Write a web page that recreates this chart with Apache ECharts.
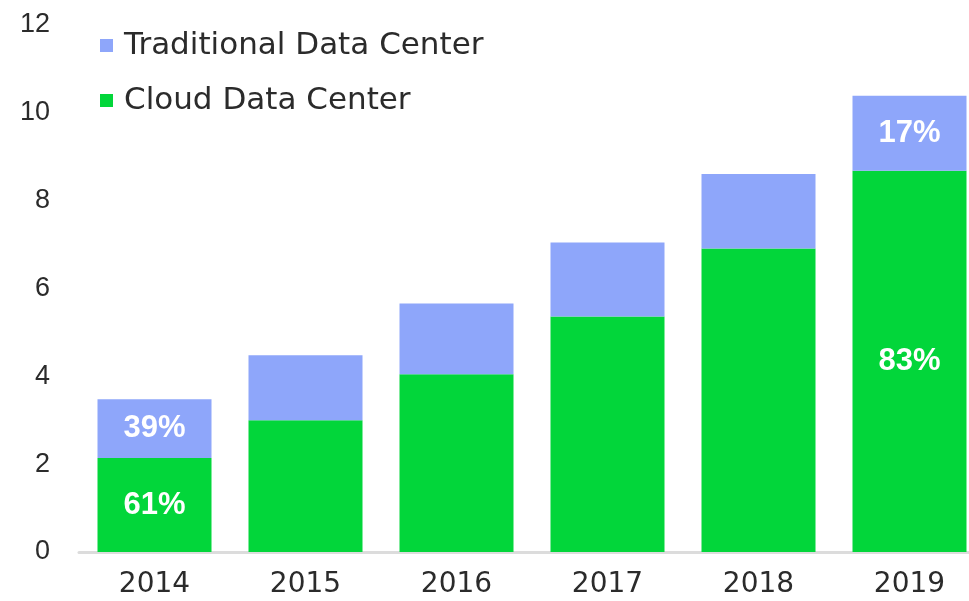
<!DOCTYPE html>
<html lang="en">
<head>
  <meta charset="utf-8" />
  <title>Data Center Workloads</title>
  <script src="https://cdn.jsdelivr.net/npm/echarts@6.0.0/dist/echarts.min.js"></script>
  <style>
    html, body { margin: 0; padding: 0; background: #fff; }
  </style>
</head>
<body>
  <div id="main" style="width: 969px;height:601px;"></div>
  <script>
    var years = ['2014', '2015', '2016', '2017', '2018', '2019']
    var cloud = [2.14, 3.0, 4.05, 5.36, 6.91, 8.68]
    var traditional = [1.34, 1.48, 1.61, 1.69, 1.70, 1.71]
    var cloudLabels = ['61%', '', '', '', '', '83%']
    var traditionalLabels = ['39%', '', '', '', '', '17%']

    var chartDom = document.getElementById('main');
    var myChart = echarts.init(chartDom);

    function withLabels(values, labels) {
      return values.map(function (v, i) {
        return {
          value: v,
          label: { show: labels[i] !== '', formatter: labels[i] }
        }
      })
    }

    var barLabel = {
      position: 'inside',
      color: '#ffffff',
      fontSize: 31,
      fontWeight: 'bold',
      fontFamily: 'Arial'
    }

    var option = {
      animation: false,
      textStyle: { fontFamily: 'Arial' },
      legend: {
        orient: 'vertical',
        left: 95,
        top: 25,
        itemWidth: 13,
        itemHeight: 13,
        itemGap: 24,
        icon: 'rect',
        data: ['Traditional Data Center', 'Cloud Data Center'],
        textStyle: { fontSize: 31, color: '#2b2b2b', fontFamily: 'DejaVu Sans', padding: [0, 0, 0, 6] }
      },
      grid: {
        left: 79,
        width: 906,
        top: 25,
        bottom: 49,
        containLabel: false,
        outerBoundsMode: 'none'
      },
      xAxis: {
        type: 'category',
        data: years,
        axisTick: { show: false },
        axisLine: { lineStyle: { color: '#dcdcdc', width: 3 } },
        axisLabel: { fontSize: 28, color: '#2b2b2b', margin: 19, fontFamily: 'DejaVu Sans' }
      },
      yAxis: {
        type: 'value',
        min: 0,
        max: 12,
        interval: 2,
        splitLine: { show: false },
        axisLine: { show: false },
        axisTick: { show: false },
        axisLabel: { fontSize: 27, color: '#2b2b2b', margin: 29, fontFamily: 'Arial' }
      },
      series: [
        {
          name: 'Cloud Data Center',
          type: 'bar',
          stack: 'total',
          barWidth: '75.5%',
          itemStyle: { color: '#02d63a' },
          label: barLabel,
          data: withLabels(cloud, cloudLabels)
        },
        {
          name: 'Traditional Data Center',
          type: 'bar',
          stack: 'total',
          barWidth: '75.5%',
          itemStyle: { color: '#8ea6fa' },
          label: barLabel,
          data: withLabels(traditional, traditionalLabels)
        }
      ]
    };
    myChart.setOption(option);
  </script>
</body>
</html>
